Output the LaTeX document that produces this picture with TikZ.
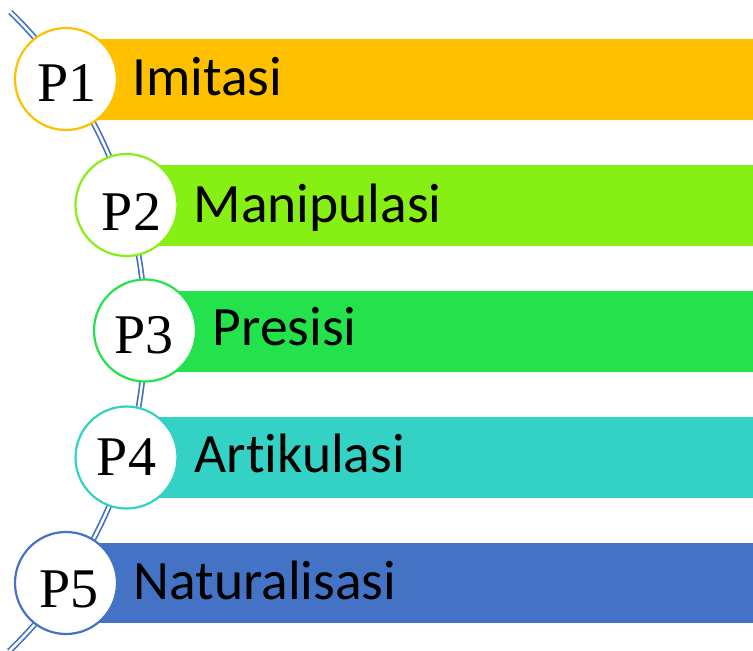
\documentclass[tikz,border=0pt]{standalone}
\usepackage{fontspec}
\setmainfont{Liberation Serif}
\newfontfamily\labfont[Ligatures={NoCommon,NoContextual}]{Carlito}
\definecolor{cOne}{HTML}{FFC000}
\definecolor{cTwo}{HTML}{86EF14}
\definecolor{cThr}{HTML}{24E24C}
\definecolor{cFou}{HTML}{33D2C5}
\definecolor{cFiv}{HTML}{4472C4}
\tikzset{
  bar/.style={fill=#1, draw=none},
  disc/.style={circle, draw=#1, line width=2.2pt, fill=white, minimum size=102pt, inner sep=0pt},
  ptext/.style={anchor=base, inner sep=0pt, font=\fontsize{56}{60}\selectfont},
  labtext/.style={anchor=base west, inner sep=0pt, font=\labfont\fontsize{55.5}{60}\selectfont},
  spine/.style={draw=cFiv, line width=1.7pt, double=white, double distance=2.4pt}
}
\begin{document}
\begin{tikzpicture}[x=1pt,y=-1pt]
\useasboundingbox (0,0) rectangle (753,651);
% spine
\coordinate (stop) at (10.3,12);
\draw[spine] (stop) arc[start angle=-45.8, end angle=46, radius=445];
% bars
\fill[bar=cOne] (66,39) rectangle (753,120);
\fill[bar=cTwo] (126.5,165) rectangle (753,246);
\fill[bar=cThr] (145,291) rectangle (753,372);
\fill[bar=cFou] (126.5,417) rectangle (753,498);
\fill[bar=cFiv] (66,543) rectangle (753,623);
% circles
\node[disc=cOne] (c1) at (66,79) {};
\node[disc=cTwo] (c2) at (126.5,205) {};
\node[disc=cThr] (c3) at (145,330.5) {};
\node[disc=cFou] (c4) at (126.5,457.5) {};
\node[disc=cFiv] (c5) at (66,583) {};
% P labels
\node[ptext] (p1) at (67,101.7) {P1};
\node[ptext] (p2) at (131.5,230) {P2};
\node[ptext] (p3) at (144,353.3) {P3};
\node[ptext] (p4) at (126.5,475) {P4};
\node[ptext] (p5) at (68.7,607) {P5};
% labels
\node[labtext] (l1) at (132,95) {Imitasi};
\node[labtext] (l2) at (193.5,222) {Manipulasi};
\node[labtext] (l3) at (212.5,345) {Presisi};
\node[labtext] (l4) at (194.5,472) {Artikulasi};
\node[labtext] (l5) at (133.5,599.5) {Naturalisasi};
\end{tikzpicture}
\end{document}
